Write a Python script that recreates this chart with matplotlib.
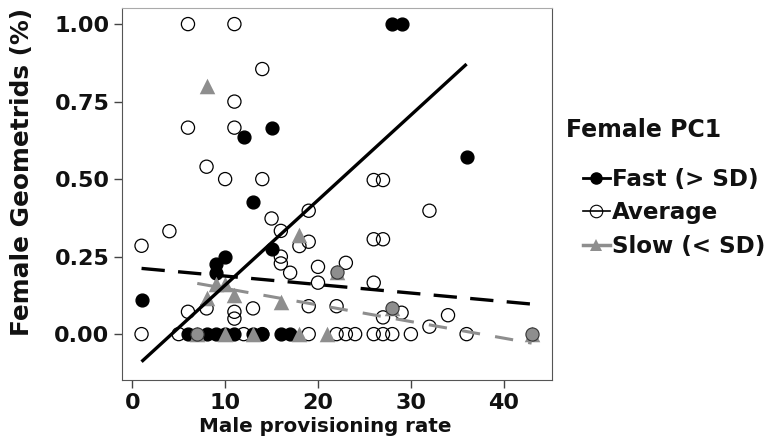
import matplotlib
matplotlib.use('Agg')
import matplotlib.pyplot as plt
from matplotlib.lines import Line2D
import numpy as np

plt.rcParams['font.family'] = 'DejaVu Sans'
plt.rcParams['font.weight'] = 'bold'

# Average female PC1 (open circles)
avg_x = [6, 11, 14, 11, 6, 11, 8, 10, 14, 26, 27,
         1, 4, 15, 16, 16, 16, 17,
         19, 32, 26, 27, 19, 18, 20, 23, 20, 26, 19, 22, 29, 27, 34, 32,
         6, 8, 11, 11, 13,
         1, 5, 12, 14, 19, 22, 23, 24, 26, 27, 28, 30, 36]
avg_y = [1.0, 1.0, 0.855, 0.75, 0.666, 0.666, 0.54, 0.50, 0.50, 0.497, 0.497,
         0.285, 0.332, 0.373, 0.333, 0.25, 0.228, 0.198,
         0.398, 0.398, 0.306, 0.306, 0.298, 0.284, 0.217, 0.23, 0.166, 0.166,
         0.09, 0.09, 0.069, 0.054, 0.061, 0.024,
         0.072, 0.083, 0.072, 0.05, 0.083,
         0, 0, 0, 0, 0, 0, 0, 0, 0, 0, 0, 0, 0]

# Fast female PC1 (filled black)
fast_x = [28, 29, 36, 15, 12, 13, 15, 10, 9, 9, 1,
          6, 8, 9, 10, 11, 13, 14, 16, 17]
fast_y = [1.0, 1.0, 0.572, 0.666, 0.636, 0.427, 0.274, 0.25, 0.226, 0.198, 0.11,
          0, 0, 0, 0, 0, 0, 0, 0, 0]

# Slow female PC1 (grey triangles)
slow_x = [8, 18, 8, 11, 9, 10, 16, 7, 10, 13, 18, 21, 22, 28, 43]
slow_y = [0.80, 0.32, 0.115, 0.126, 0.163, 0.163, 0.104, 0, 0, 0, 0, 0, 0.2, 0.083, 0]

# points where a slow triangle sits under a grey filled circle
both_x = [7, 22, 28, 43]
both_y = [0, 0.2, 0.083, 0]

# fitted lines: (intercept, slope, x start, x end)
fast_fit = (-0.1164, 0.02743, 1, 36)
avg_fit = (0.2147, -0.00274, 1, 43)
slow_fit = (0.201, -0.00535, 7, 43)

grey = '#8e8e8e'
ink = '#111111'

fig = plt.figure(figsize=(7.68, 4.43), dpi=100)
ax = fig.add_axes([0.1589, 0.1422, 0.5599, 0.8398])

ax.scatter(avg_x, avg_y, s=90, facecolors='none', edgecolors='black', linewidths=0.9, zorder=2)
ax.scatter(fast_x, fast_y, s=85, color='black', zorder=3)
ax.scatter(slow_x, slow_y, s=125, marker='^', color=grey, linewidths=0, zorder=4)
ax.scatter(both_x, both_y, s=90, facecolors=grey, edgecolors='#333333', linewidths=0.8, zorder=5)

def fit_line(fit, **kw):
    b, m, x0, x1 = fit
    xs = np.array([x0, x1])
    ax.plot(xs, b + m * xs, **kw)

fit_line(fast_fit, color='black', lw=2.4, zorder=6, solid_capstyle='butt')
fit_line(avg_fit, color='black', lw=2.4, dashes=(7, 4), zorder=6)
fit_line(slow_fit, color=grey, lw=2.2, dashes=(6, 5), zorder=6)

ax.set_xlim(-1.1, 45.2)
ax.set_ylim(-0.148, 1.052)
ax.set_xticks([0, 10, 20, 30, 40])
ax.set_yticks([0, 0.25, 0.5, 0.75, 1.0])
ax.set_yticklabels(['%.2f' % v for v in [0, 0.25, 0.5, 0.75, 1.0]])
ax.tick_params(length=6, width=1, color='#444444', labelsize=16, pad=3, labelcolor=ink)
for side in ['left', 'bottom', 'right']:
    ax.spines[side].set_color('#555555')
ax.spines['top'].set_color('#aaaaaa')

fig.text(0.029, 0.612, 'Female Geometrids (%)', rotation=90, ha='center', va='center',
         fontsize=17.8, color=ink)
fig.text(0.423, 0.038, 'Male provisioning rate', ha='center', va='center',
         fontsize=14.3, color=ink)

# legend
fig.text(566 / 768, 1 - 130 / 443, 'Female PC1', ha='left', va='center', fontsize=17, color=ink)
handles = [
    Line2D([0], [0], color='black', lw=2, marker='o', markersize=8),
    Line2D([0], [0], color='black', lw=1.2, marker='o', markersize=9,
           markerfacecolor='none', markeredgewidth=0.8),
    Line2D([0], [0], color=grey, lw=2.5, marker='^', markersize=9, markeredgewidth=0),
]
labels = ['Fast (> SD)', 'Average', 'Slow (< SD)']
leg = ax.legend(handles, labels, loc='upper left', bbox_to_anchor=(583 / 768, 1 - 168 / 443),
                bbox_transform=fig.transFigure, frameon=False, fontsize=16.6,
                handlelength=1.15, handletextpad=0.1, labelspacing=0.45,
                borderpad=0, borderaxespad=0)
for t in leg.get_texts():
    t.set_color(ink)

fig.savefig('out.png', dpi=100)
